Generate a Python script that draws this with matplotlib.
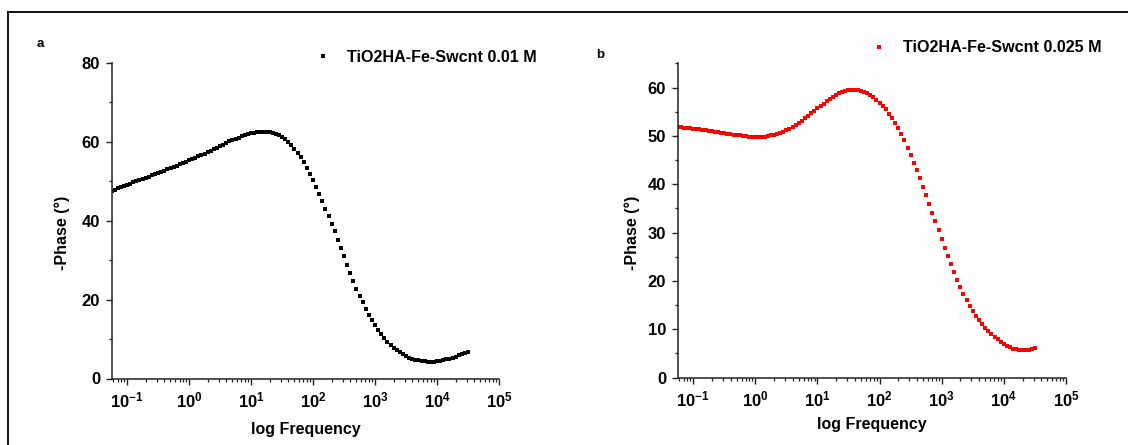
import matplotlib
matplotlib.use("Agg")
import matplotlib.pyplot as plt
from matplotlib.lines import Line2D
from matplotlib.ticker import LogLocator, MultipleLocator, NullFormatter, FixedLocator

plt.rcParams['font.family'] = ['Liberation Sans', 'DejaVu Sans']
plt.rcParams['font.weight'] = 'bold'
plt.rcParams['mathtext.fontset'] = 'custom'
plt.rcParams['mathtext.bf'] = 'Liberation Sans:bold'
plt.rcParams['mathtext.rm'] = 'Liberation Sans:bold'

# ---- data ----
freq = [
    0.0562, 0.0631, 0.0708, 0.0794, 0.0891,
    0.100, 0.112, 0.126, 0.141, 0.158, 0.178, 0.200, 0.224, 0.251, 0.282,
    0.316, 0.355, 0.398, 0.447, 0.501, 0.562, 0.631, 0.708, 0.794, 0.891,
    1.00, 1.12, 1.26, 1.41, 1.58, 1.78, 2.00, 2.24, 2.51, 2.82,
    3.16, 3.55, 3.98, 4.47, 5.01, 5.62, 6.31, 7.08, 7.94, 8.91,
    10.0, 11.2, 12.6, 14.1, 15.8, 17.8, 20.0, 22.4, 25.1, 28.2,
    31.6, 35.5, 39.8, 44.7, 50.1, 56.2, 63.1, 70.8, 79.4, 89.1,
    100, 112, 126, 141, 158, 178, 200, 224, 251, 282,
    316, 355, 398, 447, 501, 562, 631, 708, 794, 891,
    1000, 1120, 1260, 1410, 1580, 1780, 2000, 2240, 2510, 2820,
    3160, 3550, 3980, 4470, 5010, 5620, 6310, 7080, 7940, 8910,
    10000, 11200, 12600, 14100, 15800, 17800, 20000, 22400, 25100, 28200,
    31600,
]

phase_001 = [
    47.6, 47.9, 48.2, 48.5, 48.8,
    49.1, 49.4, 49.7, 50.0, 50.3, 50.6, 50.9, 51.2, 51.5, 51.8,
    52.1, 52.4, 52.7, 53.0, 53.3, 53.6, 53.9, 54.3, 54.6, 54.9,
    55.3, 55.6, 56.0, 56.3, 56.7, 57.0, 57.4, 57.7, 58.1, 58.5,
    58.9, 59.3, 59.7, 60.1, 60.5, 60.8, 61.1, 61.4, 61.7, 62.0,
    62.2, 62.3, 62.4, 62.5, 62.5, 62.5, 62.4, 62.2, 62.0, 61.7,
    61.2, 60.7, 60.0, 59.2, 58.3, 57.3, 56.1, 54.8, 53.4, 51.9,
    50.3, 48.6, 46.8, 45.0, 43.1, 41.2, 39.3, 37.3, 35.2, 33.1,
    31.0, 28.9, 26.8, 24.8, 22.8, 21.0, 19.3, 17.7, 16.2, 14.8,
    13.5, 12.3, 11.2, 10.2, 9.3, 8.5, 7.8, 7.2, 6.6, 6.1,
    5.7, 5.3, 5.0, 4.8, 4.6, 4.45, 4.35, 4.3, 4.3, 4.3,
    4.4, 4.5, 4.65, 4.85, 5.05, 5.3, 5.55, 5.85, 6.15, 6.45,
    6.8,
]

phase_0025 = [
    51.8, 51.8, 51.7, 51.7, 51.6,
    51.5, 51.5, 51.4, 51.3, 51.2, 51.1, 51.0, 50.9, 50.8, 50.7,
    50.6, 50.5, 50.4, 50.3, 50.2, 50.1, 50.0, 49.9, 49.8, 49.8,
    49.7, 49.7, 49.8, 49.8, 49.9, 50.1, 50.2, 50.4, 50.6, 50.9,
    51.2, 51.5, 51.9, 52.3, 52.7, 53.2, 53.7, 54.2, 54.7, 55.2,
    55.7, 56.2, 56.7, 57.2, 57.7, 58.1, 58.5, 58.8, 59.1, 59.3,
    59.5, 59.6, 59.6, 59.5, 59.3, 59.1, 58.8, 58.4, 58.0, 57.5,
    56.9, 56.3, 55.5, 54.6, 53.7, 52.7, 51.6, 50.4, 49.1, 47.6,
    46.1, 44.5, 42.9, 41.2, 39.5, 37.7, 35.9, 34.1, 32.3, 30.5,
    28.7, 26.9, 25.1, 23.4, 21.8, 20.2, 18.7, 17.3, 16.0, 14.8,
    13.7, 12.7, 11.8, 11.0, 10.3, 9.6, 9.0, 8.4, 7.9, 7.4,
    7.0, 6.6, 6.3, 6.0, 5.85, 5.75, 5.7, 5.7, 5.75, 5.9,
    6.1,
]

labels = ["TiO2HA-Fe-Swcnt 0.01 M", "TiO2HA-Fe-Swcnt 0.025 M"]
colors = ["black", "red"]
panel_letters = ["a", "b"]
xtick_vals = [1e-1, 1e0, 1e1, 1e2, 1e3, 1e4, 1e5]
xtick_labels = [r"$\mathbf{10^{-1}}$", r"$\mathbf{10^{0}}$", r"$\mathbf{10^{1}}$",
                r"$\mathbf{10^{2}}$", r"$\mathbf{10^{3}}$", r"$\mathbf{10^{4}}$",
                r"$\mathbf{10^{5}}$"]

W, H = 1128, 445
fig = plt.figure(figsize=(W / 100, H / 100), dpi=100)

def fx(px):
    return px / W

def fy(py):
    return 1 - py / H

# frame (top and left lines)
fig.add_artist(Line2D([fx(8), 1.0], [fy(11.5), fy(11.5)], color='black', lw=1.3,
                      transform=fig.transFigure))
fig.add_artist(Line2D([fx(8), fx(8)], [fy(11.5), 0.0], color='black', lw=1.3,
                      transform=fig.transFigure))

geoms = [
    dict(l=112, r=499, t=63, b=378.5, ylim=(0, 80), major=20, minor=10,
         ylab_x=-0.109, xlab_y=-0.138, leg=(322, 57), letter=(40, 44)),
    dict(l=678, r=1066, t=63.5, b=377.5, ylim=(0, 65), major=10, minor=5,
         ylab_x=-0.098, xlab_y=-0.126, leg=(878, 48), letter=(600, 55)),
]
series = [phase_001, phase_0025]

for i, g in enumerate(geoms):
    ax = fig.add_axes([fx(g['l']), fy(g['b']), (g['r'] - g['l']) / W, (g['b'] - g['t']) / H])
    ax.plot(freq, series[i], linestyle='none', marker='s', ms=2.9, mew=0,
            color=colors[i], label=labels[i], clip_on=True)
    ax.set_xscale('log')
    ax.set_xlim(0.057, 1e5)
    ax.set_ylim(*g['ylim'])
    for s in ['top', 'right']:
        ax.spines[s].set_visible(False)
    for s in ['left', 'bottom']:
        ax.spines[s].set_linewidth(1.1)
        ax.spines[s].set_color('#222222')
    ax.xaxis.set_major_locator(FixedLocator(xtick_vals))
    ax.set_xticklabels(xtick_labels)
    ax.xaxis.set_minor_locator(LogLocator(base=10, subs=[2, 3, 4, 5, 6, 7, 8, 9], numticks=20))
    ax.xaxis.set_minor_formatter(NullFormatter())
    ax.yaxis.set_major_locator(MultipleLocator(g['major']))
    ax.yaxis.set_minor_locator(MultipleLocator(g['minor']))
    ax.tick_params(which='major', length=4.5, width=1.0, color='#222222',
                   labelsize=12, pad=4)
    ax.tick_params(which='minor', length=2.5, width=0.9, color='#222222')
    for lab in ax.get_yticklabels():
        lab.set_fontweight('bold')
    ax.set_ylabel("-Phase (°)", fontsize=11.5, fontweight='bold')
    ax.yaxis.set_label_coords(g['ylab_x'], 0.46)
    ax.set_xlabel("log Frequency", fontsize=11.5, fontweight='bold')
    ax.xaxis.set_label_coords(0.5, g['xlab_y'])
    # legend
    lx, ly = g['leg']
    ax.legend(loc='center left', bbox_to_anchor=(fx(lx - 9), fy(ly)),
              bbox_transform=fig.transFigure, frameon=False, handlelength=1.2,
              handletextpad=0.9, borderpad=0, borderaxespad=0,
              prop={'size': 11.6, 'weight': 'bold'}, markerscale=1.0)
    fig.text(fx(g['letter'][0]), fy(g['letter'][1]), panel_letters[i], fontsize=9.5,
             fontweight='bold', ha='center', va='center')

fig.savefig("out.png", dpi=100)
